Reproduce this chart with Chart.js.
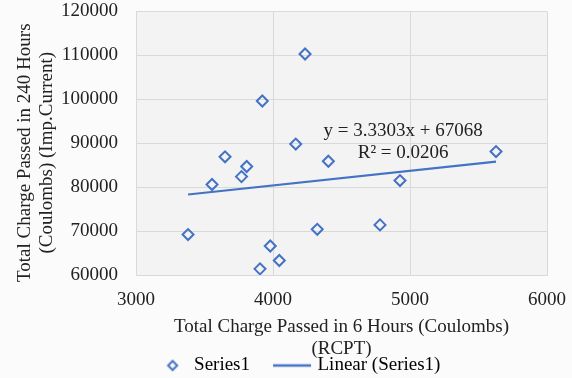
<!DOCTYPE html>
<html>
<head>
<meta charset="utf-8">
<script src="https://cdn.jsdelivr.net/npm/chart.js@4.4.0/dist/chart.umd.min.js"></script>
<style>
  html, body { margin: 0; padding: 0; background: #fbfbfb; }
  #wrap { width: 572px; height: 378px; }
</style>
</head>
<body>
<div id="wrap"><canvas id="chargeChart" width="572" height="378"></canvas></div>
<script>
// Charge passed after 6 h (RCPT) vs 240 h (impressed current), in coulombs
const rcptCharge = [3380, 3555, 3650, 3770, 3808, 3905, 3922, 3980, 4046, 4166, 4234, 4323, 4404, 4781, 4927, 5628];
const impCharge = [69200, 80600, 86900, 82400, 84700, 61400, 99600, 66600, 63300, 89800, 110300, 70400, 85900, 71400, 81500, 88100];

// Excel linear trendline
const trendSlope = 3.3303;
const trendIntercept = 67068;
const trendR2 = 0.0206;

const xTicks = [3000, 4000, 5000, 6000];
const yTicks = [60000, 70000, 80000, 90000, 100000, 110000, 120000];

const blue = '#4472C4';
const textColor = '#222';
const gridColor = '#d9d9d9';
const fontFamily = "'Liberation Serif', 'Times New Roman', serif";

Chart.defaults.font.family = fontFamily;
Chart.defaults.font.size = 19;
Chart.defaults.color = textColor;

const points = rcptCharge.map((x, i) => ({ x: x, y: impCharge[i] }));
const trendXs = [Math.min(...rcptCharge), Math.max(...rcptCharge)];
const trendPoints = trendXs.map(x => ({ x: x, y: trendSlope * x + trendIntercept }));

// little canvases used as legend symbols
function legendDiamond() {
    const c = document.createElement('canvas');
    c.width = 38; c.height = 18;
    const g = c.getContext('2d');
    g.strokeStyle = blue;
    g.lineWidth = 2;
    g.beginPath();
    g.moveTo(26, 4.5); g.lineTo(30.5, 9); g.lineTo(26, 13.5); g.lineTo(21.5, 9);
    g.closePath();
    g.stroke();
    return c;
}
function legendLine() {
    const c = document.createElement('canvas');
    c.width = 48; c.height = 18;
    const g = c.getContext('2d');
    g.strokeStyle = blue;
    g.lineWidth = 2.5;
    g.beginPath();
    g.moveTo(8, 9); g.lineTo(46, 9);
    g.stroke();
    return c;
}

// page and plot area backgrounds, trendline equation, legend placement
const plotDecor = {
    id: 'plotDecor',
    afterLayout(chart) {
        chart.legend.left = 15;
        chart.legend.right = chart.width;
        chart.legend.top += 1;
    },
    beforeDraw(chart) {
        const { ctx, chartArea: a } = chart;
        ctx.save();
        ctx.fillStyle = '#fbfbfb';
        ctx.fillRect(0, 0, chart.width, chart.height);
        ctx.fillStyle = '#f3f3f3';
        ctx.fillRect(a.left, a.top, a.right - a.left, a.bottom - a.top);
        ctx.restore();
    },
    afterDatasetsDraw(chart) {
        const { ctx, chartArea: a } = chart;
        const cx = a.left + 0.65 * (a.right - a.left);
        const cy = a.top + 0.455 * (a.bottom - a.top);
        ctx.save();
        ctx.font = '19px ' + fontFamily;
        ctx.fillStyle = textColor;
        ctx.textAlign = 'center';
        ctx.textBaseline = 'middle';
        ctx.fillText('y = ' + trendSlope + 'x + ' + trendIntercept, cx, cy);
        ctx.fillText('R² = ' + trendR2, cx, cy + 22);
        ctx.restore();
    }
};

new Chart(document.getElementById('chargeChart'), {
    type: 'scatter',
    data: {
        datasets: [{
            label: 'Series1',
            data: points,
            pointStyle: 'rectRot',
            pointRadius: 5.5,
            pointHoverRadius: 5.5,
            borderColor: blue,
            borderWidth: 2,
            backgroundColor: 'rgba(0,0,0,0)',
            order: 1
        }, {
            type: 'line',
            label: 'Linear (Series1)',
            data: trendPoints,
            borderColor: blue,
            borderWidth: 2.25,
            pointRadius: 0,
            fill: false,
            order: 0
        }]
    },
    options: {
        responsive: false,
        animation: false,
        devicePixelRatio: 1,
        layout: { padding: { left: 0, right: 25, top: 11, bottom: -6 } },
        plugins: {
            tooltip: { enabled: false },
            legend: {
                position: 'bottom',
                labels: {
                    usePointStyle: true,
                    pointStyleWidth: 38,
                    padding: 20,
                    font: { size: 19, lineHeight: 1 },
                    color: textColor,
                    generateLabels: () => [
                        { text: 'Series1', pointStyle: legendDiamond(), fillStyle: blue, strokeStyle: blue, lineWidth: 0, hidden: false, datasetIndex: 0 },
                        { text: 'Linear (Series1)', pointStyle: legendLine(), fillStyle: blue, strokeStyle: blue, lineWidth: 0, hidden: false, datasetIndex: 1 }
                    ]
                }
            }
        },
        scales: {
            x: {
                type: 'linear',
                min: xTicks[0],
                max: xTicks[xTicks.length - 1],
                afterBuildTicks: s => { s.ticks = xTicks.map(v => ({ value: v })); },
                afterFit: s => { s.height = 60; },
                ticks: { padding: 0, callback: v => String(v), color: textColor },
                grid: { color: gridColor, drawTicks: true, tickLength: 14, tickColor: 'rgba(0,0,0,0)' },
                border: { color: gridColor },
                title: {
                    display: true,
                    text: ['Total Charge Passed in 6 Hours (Coulombs)', '(RCPT)'],
                    font: { size: 19, lineHeight: 1.15 },
                    color: textColor,
                    padding: { top: 0, bottom: -25 }
                }
            },
            y: {
                min: yTicks[0],
                max: yTicks[yTicks.length - 1],
                afterBuildTicks: s => { s.ticks = yTicks.map(v => ({ value: v })); },
                afterFit: s => { s.width = 136; },
                ticks: { padding: 0, callback: v => String(v), color: textColor },
                grid: { color: gridColor, drawTicks: true, tickLength: 18, tickColor: 'rgba(0,0,0,0)' },
                border: { color: gridColor },
                title: {
                    display: true,
                    // trailing en spaces push the rotated title a little lower
                    text: ['Total Charge Passed in 240 Hours\u2002\u2002', '(Coulombs) (Imp.Current)\u2002\u2002'],
                    font: { size: 19, lineHeight: 1.15 },
                    color: textColor,
                    padding: { top: 14, bottom: 0 }
                }
            }
        }
    },
    plugins: [plotDecor]
});
</script>
</body>
</html>
